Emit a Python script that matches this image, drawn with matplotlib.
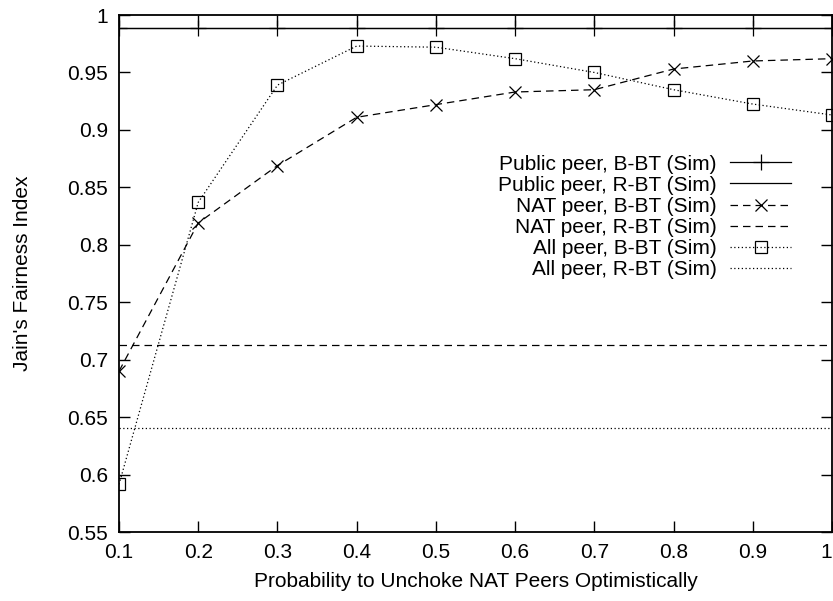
import numpy as np
import matplotlib
matplotlib.use("Agg")
import matplotlib.pyplot as plt
from matplotlib.ticker import FuncFormatter

plt.rcParams['font.family'] = ['Liberation Sans', 'DejaVu Sans']

# data
prob = [0.1, 0.2, 0.3, 0.4, 0.5, 0.6, 0.7, 0.8, 0.9, 1.0]
public_bbt = [0.989] * 10
public_rbt = [0.989] * 10
nat_bbt = [0.690, 0.819, 0.869, 0.911, 0.922, 0.933, 0.935, 0.953, 0.960, 0.962]
nat_rbt = [0.7125] * 10
all_bbt = [0.5915, 0.837, 0.939, 0.973, 0.972, 0.962, 0.950, 0.935, 0.9225, 0.913]
all_rbt = [0.6405] * 10

labels = ["Public peer, B-BT (Sim)", "Public peer, R-BT (Sim)",
          "NAT peer, B-BT (Sim)", "NAT peer, R-BT (Sim)",
          "All peer, B-BT (Sim)", "All peer, R-BT (Sim)"]

fs = 15

fig = plt.figure(figsize=(8.33, 6.01), dpi=100)
ax = fig.add_axes([0.1429, 0.1148, 0.8559, 0.8602])

lw = 0.9
ax.plot(prob, public_bbt, color='k', lw=lw, marker='+', ms=11, mew=lw, label=labels[0])
ax.plot(prob, public_rbt, color='k', lw=lw, label=labels[1])
ax.plot(prob, nat_bbt, color='k', lw=lw, ls=(0, (6, 4)), marker='x', ms=8, mew=lw, label=labels[2])
ax.plot(prob, nat_rbt, color='k', lw=lw, ls=(0, (6, 4)), label=labels[3])
ax.plot(prob, all_bbt, color='k', lw=lw, ls=(0, (1, 2)), marker='s', ms=8, mew=lw,
        mfc='none', label=labels[4])
ax.plot(prob, all_rbt, color='k', lw=lw, ls=(0, (1, 2)), label=labels[5])

ax.set_xlim(0.1, 1.0)
ax.set_ylim(0.55, 1.0)
ax.set_xticks(np.arange(0.1, 1.01, 0.1))
ax.set_yticks(np.arange(0.55, 1.001, 0.05))
fmt = FuncFormatter(lambda v, p: "%g" % round(v, 2))
ax.xaxis.set_major_formatter(fmt)
ax.yaxis.set_major_formatter(fmt)
ax.tick_params(direction='in', length=8, width=1, top=True, right=True,
               labelsize=fs, pad=8, colors='k')
for s in ax.spines.values():
    s.set_linewidth(1.3)
# keep the last x label inside the picture
ax.get_xticklabels()[-1].set_horizontalalignment('right')
ax.get_xticklabels()[-1].set_x(1.0)

ax.set_xlabel("Probability to Unchoke NAT Peers Optimistically", fontsize=fs, labelpad=7)
ax.set_ylabel("Jain's Fairness Index", fontsize=fs, labelpad=25)

leg = ax.legend(loc='upper right', bbox_to_anchor=(0.954, 0.746), frameon=False,
                markerfirst=False, fontsize=fs, handlelength=2.9, handletextpad=0.67,
                labelspacing=0.1, borderaxespad=0)

fig.savefig("out.png", dpi=100)
